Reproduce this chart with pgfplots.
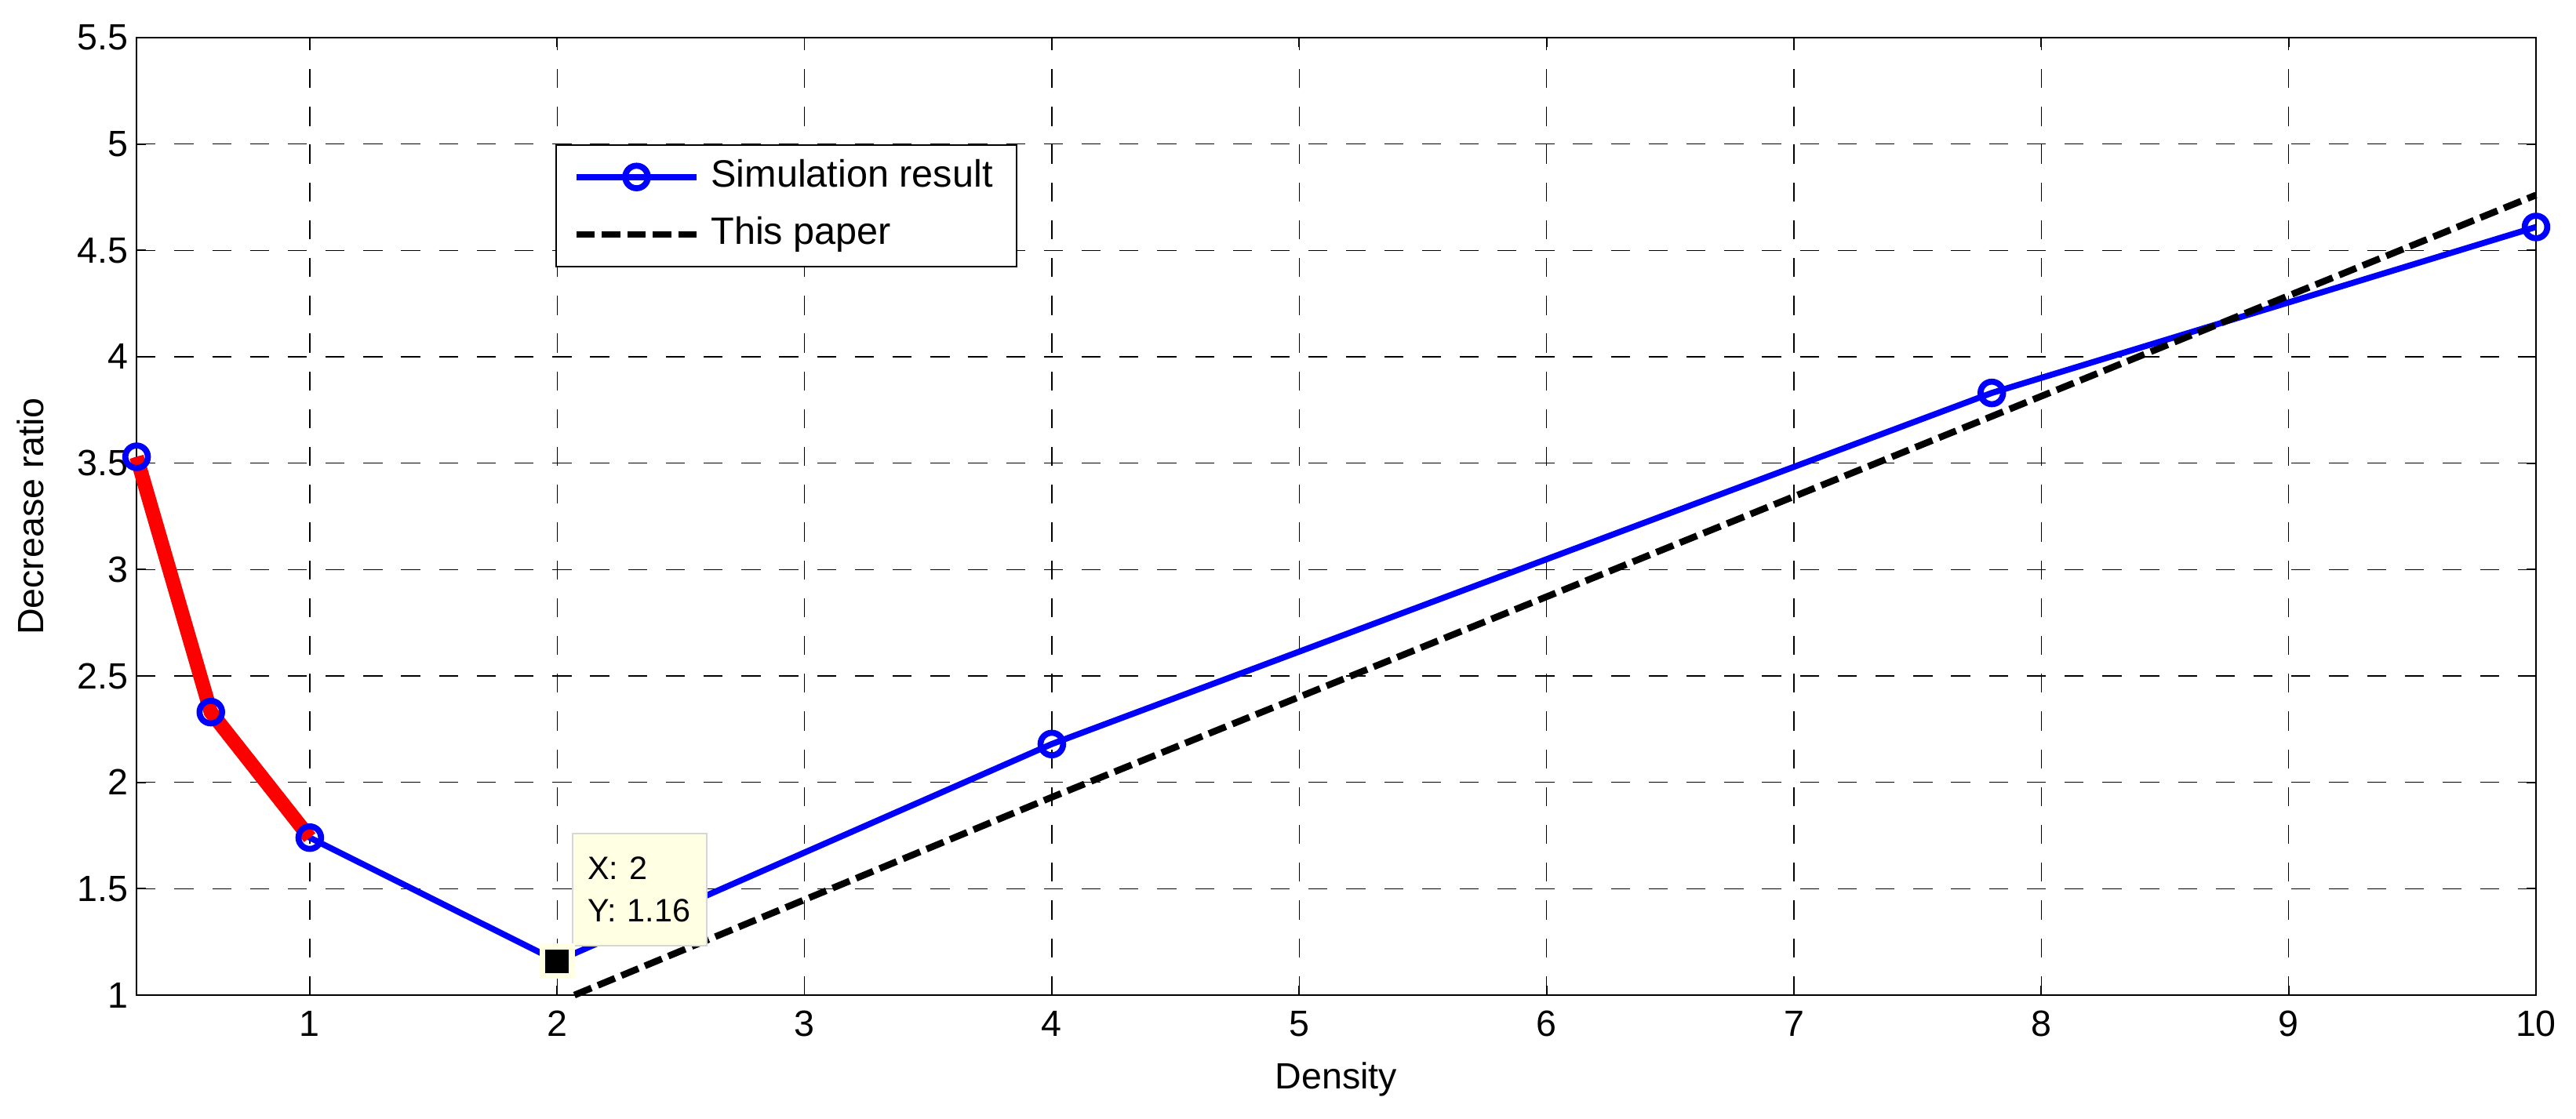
\documentclass[border=0pt]{standalone}
\usepackage{fontspec}
\setmainfont{Liberation Sans}
\usepackage{pgfplots}
\pgfplotsset{compat=1.18}
\definecolor{tipyellow}{HTML}{FFFFE4}
\definecolor{tipedge}{HTML}{D6D6D6}

\begin{document}
\begin{tikzpicture}
\begin{axis}[
  scale only axis,
  width=755.3pt, height=301.5pt,
  xmin=0.3, xmax=10, ymin=1, ymax=5.5,
  xtick={1,2,3,4,5,6,7,8,9,10},
  ytick={1,1.5,2,2.5,3,3.5,4,4.5,5,5.5},
  tick align=inside, major tick length=3pt,
  grid=major,
  major grid style={black, line width=0.35pt, dash pattern=on 6pt off 5.9pt},
  axis line style={black, line width=0.45pt},
  tick style={black, line width=0.45pt},
  /pgf/number format/assume math mode=true,
  ticklabel style={font=\fontsize{11.5}{13}\selectfont},
  xticklabel style={yshift=-1.4pt},
  yticklabel style={xshift=0.8pt},
  label style={font=\fontsize{11.5}{13}\selectfont},
  xlabel={Density},
  ylabel={Decrease ratio},
  xlabel style={at={([yshift=-29.4pt]axis description cs:0.5,0)}, anchor=base},
  ylabel style={at={([xshift=-29.2pt]axis description cs:0,0.5)}, anchor=base},
  legend style={at={(0.1746,0.8886)}, anchor=north west, draw=black, line width=0.5pt,
    fill=white, font=\fontsize{12}{14}\selectfont, inner xsep=4pt, inner ysep=1.5pt,
    row sep=1pt, nodes={text depth=2.5pt, text height=8.6pt, inner ysep=3pt, inner xsep=3.5pt}},
  legend cell align=left,
  legend image code/.code={\path (0pt,0pt);
    \draw[mark repeat=2,mark phase=2,#1] plot coordinates {(1.3pt,0pt) (20.2pt,0pt) (39.1pt,0pt)};},
  clip=false,
]
% simulation result
\addplot[blue, line width=1.9pt, mark=o, mark size=3.55pt, mark options={solid, line width=1.9pt}]
  coordinates {(0.3,3.53) (0.6,2.33) (1,1.74) (2,1.16) (4,2.18) (7.8,3.83) (10,4.61)};
\addlegendentry{Simulation result}
% this paper
\addplot[black, line width=2.1pt, dash pattern=on 5.8pt off 2.2pt]
  coordinates {(2.07,1.0) (4,1.93) (7.8,3.72) (10,4.76)};
\addlegendentry{This paper}
% highlighted segment
\addplot[red, line width=4.5pt, forget plot]
  coordinates {(0.3,3.53) (0.6,2.33) (1,1.74)};
% data tip
\addplot[only marks, mark=square*, mark size=4.6pt, forget plot,
  mark options={fill=black, draw=tipyellow, line width=1.8pt}]
  coordinates {(2,1.16)};
\node[anchor=south west, xshift=4.7pt, yshift=4.7pt, fill=tipyellow, draw=tipedge, line width=0.5pt,
  minimum width=42.2pt, minimum height=35.3pt, text width=32.8pt, inner xsep=4.7pt, align=left,
  font=\fontsize{10.2}{13.3}\selectfont] at (axis cs:2,1.16) {X: 2\\Y: 1.16};
\coordinate (bl) at (rel axis cs:0,0);
\coordinate (tr) at (rel axis cs:1,1);
\end{axis}
\pgfresetboundingbox
\path[use as bounding box] ([xshift=-43pt,yshift=-38.8pt]bl) rectangle ([xshift=12.6pt,yshift=11.85pt]tr);
\end{tikzpicture}
\end{document}
